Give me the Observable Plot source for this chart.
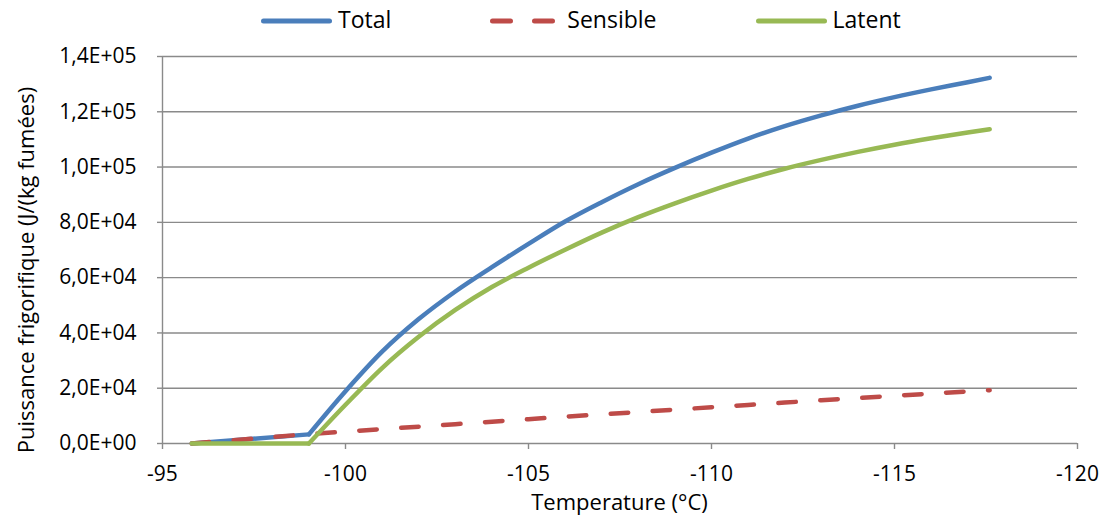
<!DOCTYPE html>
<html>
<head>
<meta charset="utf-8">
<script src="https://cdn.jsdelivr.net/npm/d3@7"></script>
<script src="https://cdn.jsdelivr.net/npm/@observablehq/plot@0.6"></script>
<style>
  html, body { margin: 0; padding: 0; background: #fff; }
  #wrap { position: relative; width: 1111px; height: 519px; overflow: hidden; font-family: "Open Sans", sans-serif; color: #000; }
  #chart { position: absolute; left: 0; top: 0; }
  #chart svg g[aria-label="x-axis tick"] path,
  #chart svg g[aria-label="y-axis tick"] path,
  #chart svg .tick line { stroke: #8a8a8a; stroke-width: 1.4px; }
  .legend { position: absolute; top: 7.6px; left: 261px; display: flex; align-items: flex-start; gap: 99px; font-size: 23px; line-height: 23px; }
  .legend .item { display: flex; align-items: flex-start; gap: 6px; }
  .legend svg { display: block; }
  .xtitle { position: absolute; left: 162px; width: 915px; top: 489.8px; text-align: center; font-size: 22px; line-height: 22px; }
  .ytitle { position: absolute; left: -275.5px; top: 259px; width: 600px; height: 22px; text-align: center; font-size: 22px; line-height: 22px; transform: rotate(-90deg); transform-origin: center; white-space: nowrap; }
</style>
</head>
<body>
<div id="wrap">
  <div id="chart"></div>
  <div class="legend" id="legend"></div>
  <div class="xtitle">Temperature (°C)</div>
  <div class="ytitle">Puissance frigorifique (J/(kg fumées)</div>
</div>
<script>
// ---- data ----
const temperatures = [-95.8, -99, -100, -101, -102, -103, -104, -105, -106, -107, -108, -109, -110, -111, -112, -113, -114, -115, -116, -117, -117.6];
const total    = [0, 3300, 18900, 33200, 45000, 55000, 63800, 72200, 80300, 87300, 93800, 99700, 105200, 110300, 114800, 118700, 122200, 125300, 128100, 130700, 132300];
const sensible = [0, 3400, 4300, 5200, 6100, 7000, 7900, 8800, 9700, 10550, 11400, 12250, 13100, 13950, 14800, 15650, 16450, 17250, 18050, 18850, 19300];
const latent   = [0, 0, 14000, 27300, 38600, 48300, 56600, 63600, 70100, 76300, 81900, 86900, 91500, 95700, 99400, 102600, 105500, 108100, 110400, 112500, 113700];
const seriesNames = ["Total", "Sensible", "Latent"];
const xTicks = [-95, -100, -105, -110, -115, -120];
const yTicks = [0, 20000, 40000, 60000, 80000, 100000, 120000, 140000];

// ---- styles ----
const colors = {Total: "#4A7EBB", Sensible: "#BE4B48", Latent: "#98B954"};
const dashes = {Total: null, Sensible: "17.5,24.5", Latent: null};
const values = {Total: total, Sensible: sensible, Latent: latent};

const rows = name => temperatures.map((t, i) => ({t, v: values[name][i]}));

const fmtY = d => {
  if (d === 0) return "0,0E+00";
  const e = Math.floor(Math.log10(d) + 1e-9);
  const m = d / Math.pow(10, e);
  return m.toFixed(1).replace(".", ",") + "E+" + String(e).padStart(2, "0");
};

const lineStyle = name => ({
  x: "t", y: "v",
  stroke: colors[name],
  strokeWidth: 4.5,
  strokeLinecap: "round",
  strokeLinejoin: "round",
  strokeDasharray: dashes[name] || undefined
});

// straight segment up to the onset of condensation (-99 °C), smooth curve after it
const lineMarks = seriesNames.flatMap(name => {
  const r = rows(name);
  if (name === "Sensible") return [Plot.line(r, lineStyle(name))];
  return [
    Plot.line(r.slice(0, 2), lineStyle(name)),
    Plot.line(r.slice(1), {...lineStyle(name), curve: "monotone-x"})
  ];
});

const chart = Plot.plot({
  width: 1111,
  height: 519,
  marginLeft: 162,
  marginRight: 34,
  marginTop: 56,
  marginBottom: 76,
  style: {fontFamily: "'Open Sans', sans-serif", fontSize: "21px", color: "#000", background: "#fff", overflow: "visible"},
  x: {domain: [-95, -120], ticks: xTicks, tickFormat: d => String(d), tickSize: 6, tickPadding: 17, label: null},
  y: {domain: [0, 140000], ticks: yTicks, tickFormat: fmtY, tickSize: 5, tickPadding: 21, label: null},
  marks: [
    Plot.ruleY(yTicks, {stroke: "#8a8a8a", strokeWidth: 1.4}),
    Plot.ruleX([-95], {stroke: "#8a8a8a", strokeWidth: 1.4}),
    ...lineMarks
  ]
});
document.getElementById("chart").appendChild(chart);

// ---- legend ----
const legend = document.getElementById("legend");
for (const name of seriesNames) {
  const item = document.createElement("div");
  item.className = "item";
  const ns = "http://www.w3.org/2000/svg";
  const sw = document.createElementNS(ns, "svg");
  sw.setAttribute("width", "71");
  sw.setAttribute("height", "23");
  const ln = document.createElementNS(ns, "line");
  ln.setAttribute("x1", "2.5"); ln.setAttribute("x2", "68.5");
  ln.setAttribute("y1", "13.1"); ln.setAttribute("y2", "13.1");
  ln.setAttribute("stroke", colors[name]);
  ln.setAttribute("stroke-width", "5");
  ln.setAttribute("stroke-linecap", "round");
  if (dashes[name]) ln.setAttribute("stroke-dasharray", "18,24");
  sw.appendChild(ln);
  const label = document.createElement("span");
  label.textContent = name;
  item.appendChild(sw);
  item.appendChild(label);
  legend.appendChild(item);
}
</script>
</body>
</html>
